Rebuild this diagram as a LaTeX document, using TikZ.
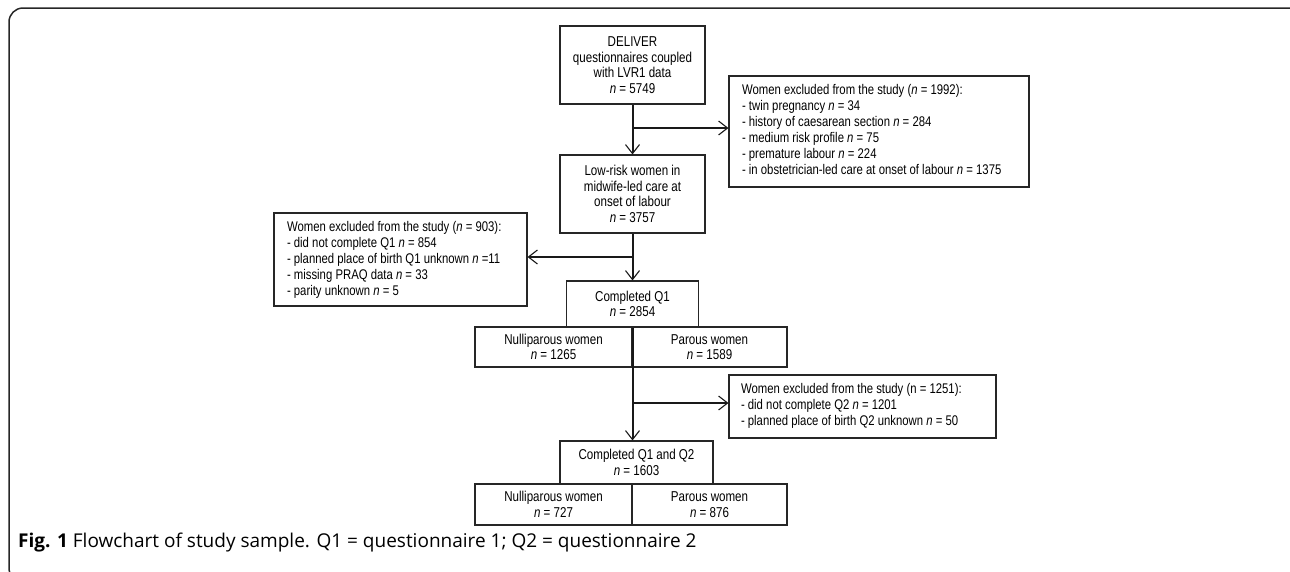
\documentclass[tikz,border=0pt]{standalone}
\usepackage{fontspec}
\setmainfont{Liberation Sans}
\newfontfamily\dfont[FakeStretch=0.81]{Liberation Sans}
\newfontfamily\capfont{Open Sans}
\usetikzlibrary{arrows.meta}
\newcommand\nn{\textit{n}}
\newcommand\topbox[3]{\parbox[c][#1][t]{#2}{\raggedright\vspace*{8.5pt}#3}}
\begin{document}
\begin{tikzpicture}[x=1pt,y=-1pt,
 box/.style={draw=black!85, line width=1.1pt, font=\dfont\fontsize{14.3}{15.5}\selectfont, align=center, inner sep=0pt},
 lbox/.style={box, font=\dfont\fontsize{14}{16}\selectfont, inner xsep=13pt, inner ysep=0pt},
 flow/.style={line width=2pt, draw=black!90},
 arr/.style={flow, -{Straight Barb[length=9pt,width=14pt,line width=1.1pt]}}
]
\useasboundingbox (0,0) rectangle (1290,571);
\begin{scope}
\clip (0,0) rectangle (1290,571);
\draw[line width=1.5pt, black!85, rounded corners=14pt] (9,8) rectangle (1302,582);
\end{scope}

\node[box, minimum width=145pt, minimum height=78pt] (deliver) at (632.5,65)
  {DELIVER\\questionnaires coupled\\with LVR1 data\\\nn{} = 5749};
\node[lbox] (excl1) at (879,131.5)
  {\topbox{111pt}{274pt}{Women excluded from the study (\nn{} = 1992):\\
   - twin pregnancy \nn{} = 34\\
   - history of caesarean section \nn{} = 284\\
   - medium risk profile \nn{} = 75\\
   - premature labour \nn{} = 224\\
   - in obstetrician-led care at onset of labour \nn{} = 1375}};
\node[box, minimum width=145pt, minimum height=78pt] (lowrisk) at (632.5,194)
  {Low-risk women in\\midwife-led care at\\onset of labour\\\nn{} = 3757};
\node[lbox] (excl2) at (400.5,259.5)
  {\topbox{93pt}{227pt}{Women excluded from the study (\nn{} = 903):\\
   - did not complete Q1 \nn{} = 854\\
   - planned place of birth Q1 unknown \nn{} =11\\
   - missing PRAQ data \nn{} = 33\\
   - parity unknown \nn{} = 5}};
\node[box, minimum width=132pt, minimum height=46pt] (q1) at (632.5,304)
  {Completed Q1\\\nn{} = 2854};
\node[box, minimum width=157pt, minimum height=40pt] (nulli1) at (553.5,347)
  {Nulliparous women\\\nn{} = 1265};
\node[box, minimum width=155pt, minimum height=40pt] (parous1) at (709.5,347)
  {Parous women\\\nn{} = 1589};
\node[lbox, inner xsep=12pt] (excl3) at (862.5,406.5)
  {\topbox{63pt}{243pt}{Women excluded from the study (n = 1251):\\
   - did not complete Q2 \nn{} = 1201\\
   - planned place of birth Q2 unknown \nn{} = 50}};
\node[box, minimum width=153pt, minimum height=43pt] (q12) at (636.5,462.5)
  {Completed Q1 and Q2\\\nn{} = 1603};
\node[box, minimum width=157pt, minimum height=41pt] (nulli2) at (553.5,504.5)
  {Nulliparous women\\\nn{} = 727};
\node[box, minimum width=155pt, minimum height=41pt] (parous2) at (709.5,504.5)
  {Parous women\\\nn{} = 876};

\coordinate (b1) at (632.5,128);
\coordinate (b2) at (632.5,257);
\coordinate (b3) at (632.5,403);
\draw[arr] (deliver.south) -- (lowrisk.north);
\draw[arr] (b1) -- (b1 -| excl1.west);
\draw[arr] (lowrisk.south) -- (q1.north);
\draw[arr] (b2) -- (b2 -| excl2.east);
\draw[arr] (q1.south) -- (q1.south |- q12.north);
\draw[arr] (b3) -- (b3 -| excl3.west);

\node[anchor=west, inner sep=0pt, font=\capfont\fontsize{19}{22}\selectfont] (cap) at (18,543)
  {\textbf{Fig. 1} Flowchart of study sample. Q1 = questionnaire 1; Q2 = questionnaire 2};
\end{tikzpicture}
\end{document}
